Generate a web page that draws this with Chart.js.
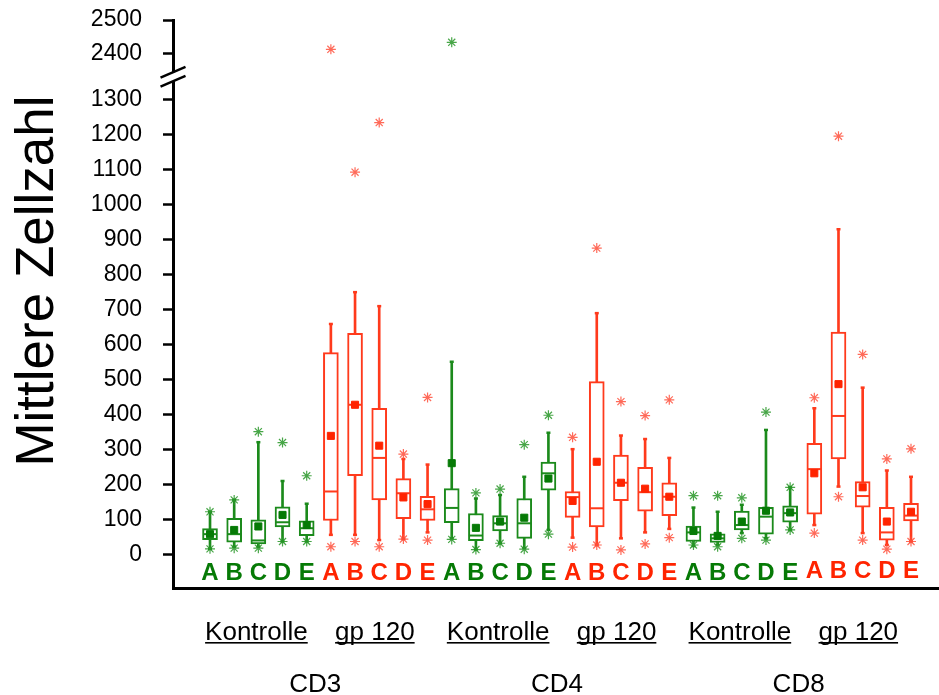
<!DOCTYPE html>
<html><head><meta charset="utf-8">
<script src="https://cdn.jsdelivr.net/npm/chart.js@4.4.0/dist/chart.umd.min.js"></script>
<style>html,body{margin:0;padding:0;background:#fff}#wrap{width:939px;height:695px;position:relative}</style>
</head><body><div id="wrap"><canvas id="c" width="939" height="695"></canvas></div>
<script>
// ---- data ----
const letters = ['A','B','C','D','E'];
const conditions = ['Kontrolle','gp 120','Kontrolle','gp 120','Kontrolle','gp 120'];
const cellTypes = ['CD3','CD4','CD8'];
const yTickValues = [0,100,200,300,400,500,600,700,800,900,1000,1100,1200,1300,2400,2500];
const yTitle = 'Mittlere Zellzahl';

const whiskerHigh = [122,156,321,210,145, 659,750,710,273,257, 551,160,170,222,348, 301,690,340,330,276, 134,122,142,356,192, 418,930,477,240,222];
const q3          = [ 74,103, 99,136, 96, 577,632,418,217,166, 188,117,111,160,264, 180,494,284,249,205,  81, 59,124,135,139, 318,636,208,135,146];
const median      = [ 58, 58, 40, 92, 75, 180,428,276,175,129, 133, 54, 89, 89,232, 164,132,205,178,165,  63, 46, 84,108,118, 244,396,167, 63,111];
const q1          = [ 42, 35, 30, 79, 54,  97,225,156,102, 97,  91, 39, 67, 46,184, 106, 79,154,124,111,  37, 34, 70, 58, 92, 115,273,135, 41, 96];
const whiskerLow  = [ 16, 22, 22, 37, 37,  56, 56, 41, 44, 63,  46, 14, 32, 18, 70,  48, 27, 46, 63, 73,  24, 27, 61, 46, 70,  84,194, 61, 27, 37];
const mean        = [ 58, 70, 80,113, 84, 339,428,311,163,144, 261, 76, 94,105,217, 153,265,205,188,165,  67, 53, 94,125,120, 232,487,192, 94,122];
const outlierHigh = [122,156,351,320,225, 2412,1093,1235,287,449, 2433,176,187,314,398, 335,876,437,397,442, 168,168,162,407,192, 448,1196,572,273,302];
const outlierLow  = [ 16, 18, 18, 37, 37,  22, 37, 22, 44, 41,  43, 14, 32, 15, 58,  21, 27, 13, 30, 48,  27, 22, 46, 41, 70,  61,165, 41, 15, 37];

// ---- styling ----
const FONT = "'Liberation Sans', Arial, Helvetica, sans-serif";
const GREEN = '#1b8a1b', GREEN_DARK = '#067a06', GREEN_LIGHT = 'rgba(40,150,40,0.85)';
const RED = '#ff3a1c', RED_DARK = '#ff2400', RED_LIGHT = 'rgba(255,80,60,0.85)';

// broken axis: values above the break are shifted down
function toAxis(v){ return v > 1800 ? 1433 + (v - 2400) * 0.953 : v; }
const isGreen = i => Math.floor(i / 5) % 2 === 0;

const N = whiskerHigh.length;
const datasets = [];
[[true, GREEN, GREEN_DARK, GREEN_LIGHT], [false, RED, RED_DARK, RED_LIGHT]].forEach(([g, col, dark, light]) => {
  const idx = [...Array(N).keys()].filter(i => isGreen(i) === g);
  datasets.push({type:'bar', data: idx.map(i => ({x:i, y:[toAxis(whiskerLow[i]), toAxis(whiskerHigh[i])]})),
    backgroundColor: col, borderWidth: 0, barThickness: 2, grouped: false, order: 6});
  datasets.push({type:'bar', data: idx.map(i => ({x:i, y:[q1[i], q3[i]]})),
    backgroundColor: '#ffffff', borderColor: col, borderWidth: 2, borderSkipped: false, barThickness: 15, grouped: false, order: 5});
  datasets.push({type:'scatter', data: idx.map(i => ({x:i, y:median[i]})),
    pointStyle:'line', pointRadius: 7, pointBorderWidth: 2, pointBorderColor: col, order: 4});
  datasets.push({type:'scatter', data: idx.flatMap(i => [{x:i, y:toAxis(whiskerHigh[i])}, {x:i, y:toAxis(whiskerLow[i])}]),
    pointStyle:'line', pointRadius: 2, pointBorderWidth: 2.5, pointBorderColor: col, order: 3});
  datasets.push({type:'scatter', data: idx.map(i => ({x:i, y:mean[i]})),
    pointStyle:'rect', pointRadius: 5, pointBorderWidth: 1, pointBorderColor: dark, pointBackgroundColor: dark, order: 2});
  datasets.push({type:'scatter', data: idx.flatMap(i => [{x:i, y:toAxis(outlierHigh[i])}, {x:i, y:toAxis(outlierLow[i])}]),
    pointStyle:'star', pointRadius: 5, pointBorderWidth: 1.2, pointBorderColor: light, pointBackgroundColor: light, order: 1});
});

const extras = {
  id: 'extras',
  afterDraw(chart) {
    const ctx = chart.ctx, xs = chart.scales.x, ys = chart.scales.y, ca = chart.chartArea;
    ctx.save();
    // axis break
    const ax = ca.left, yb = ys.getPixelForValue(1366);
    ctx.fillStyle = '#fff';
    ctx.fillRect(ax - 3, yb - 4.5, 6, 9);
    ctx.strokeStyle = '#000'; ctx.lineWidth = 2.5;
    [-4.5, 4.5].forEach(o => {
      ctx.beginPath();
      ctx.moveTo(ax - 12.5, yb + o + 5.3);
      ctx.lineTo(ax + 12.5, yb + o - 5.3);
      ctx.stroke();
    });
    // letters under boxes
    ctx.font = 'bold 24px ' + FONT;
    ctx.textAlign = 'center'; ctx.textBaseline = 'alphabetic';
    for (let i = 0; i < N; i++) {
      ctx.fillStyle = isGreen(i) ? GREEN_DARK : RED_DARK;
      ctx.fillText(letters[i % 5], xs.getPixelForValue(i), ca.bottom - 8 - (i >= 25 ? 2 : 0));
    }
    // condition labels, underlined
    ctx.font = '26px ' + FONT; ctx.fillStyle = '#000';
    conditions.forEach((t, g) => {
      const x = xs.getPixelForValue(g * 5 + 2 - (g % 2 ? 0.18 : 0.08)), y = 640;
      ctx.fillText(t, x, y);
      const w = ctx.measureText(t).width;
      ctx.fillRect(x - w / 2, y + 2, w, 1.6);
    });
    // cell type labels
    cellTypes.forEach((t, c) => {
      ctx.fillText(t, xs.getPixelForValue(c * 10 + 4.5 - 0.15), 692);
    });
    // y title
    ctx.font = '53px ' + FONT;
    ctx.translate(53, 281); ctx.rotate(-Math.PI / 2);
    ctx.fillText(yTitle, 0, 0);
    ctx.restore();
  }
};

new Chart(document.getElementById('c'), {
  type: 'bar',
  data: { datasets },
  options: {
    responsive: false, animation: false,
    layout: { autoPadding: false, padding: { top: 20, left: 0, right: 0, bottom: 0 } },
    plugins: { legend: { display: false }, tooltip: { enabled: false } },
    scales: {
      x: { type: 'linear', min: -1.531, max: 30.158, offset: false,
        grid: { display: false, drawTicks: false }, ticks: { display: false },
        border: { display: true, color: '#000', width: 3 },
        afterFit: s => { s.height = 107; s.paddingLeft = 0; s.paddingRight = 0; s.paddingTop = 0; s.paddingBottom = 0; } },
      y: { type: 'linear', min: -96, max: 1528.3,
        afterBuildTicks: s => { s.ticks = yTickValues.map(v => ({ value: toAxis(v) })); },
        ticks: { callback: (v, i) => String(yTickValues[i]), font: { size: 23, family: FONT }, color: '#000', padding: 21, autoSkip: false },
        grid: { display: true, drawOnChartArea: false, drawTicks: true, tickLength: 10, tickWidth: 2.5, tickColor: '#000' },
        border: { display: true, color: '#000', width: 3 },
        afterFit: s => { s.width = 173; s.paddingLeft = 0; s.paddingRight = 0; s.paddingTop = 0; s.paddingBottom = 0; } }
    }
  },
  plugins: [extras]
});
</script>
</body></html>
